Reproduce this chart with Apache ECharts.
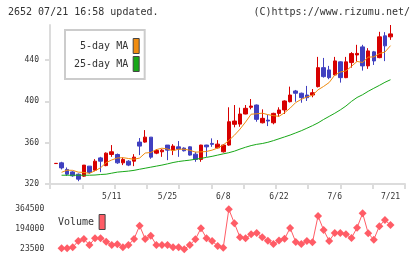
<!DOCTYPE html>
<html>
<head>
<meta charset="utf-8">
<script src="https://cdn.jsdelivr.net/npm/echarts@6/dist/echarts.min.js"></script>
<style>
  html, body { margin: 0; padding: 0; background: #fff; }
  #chart { width: 420px; height: 259px; }
</style>
</head>
<body>
<div id="chart"></div>
<script>
// trading days (2015)
var dates = [
  "4/21", "4/22", "4/23", "4/24", "4/27", "4/28", "4/30", "5/1", "5/7", "5/8",
  "5/11", "5/12", "5/13", "5/14", "5/15", "5/18", "5/19", "5/20", "5/21", "5/22",
  "5/25", "5/26", "5/27", "5/28", "5/29", "6/1", "6/2", "6/3", "6/4", "6/5",
  "6/8", "6/9", "6/10", "6/11", "6/12", "6/15", "6/16", "6/17", "6/18", "6/19",
  "6/22", "6/23", "6/24", "6/25", "6/26", "6/29", "6/30", "7/1", "7/2", "7/3",
  "7/6", "7/7", "7/8", "7/9", "7/10", "7/13", "7/14", "7/15", "7/16", "7/17",
  "7/21"
];
var tickLabels = ["5/11", "5/25", "6/8", "6/22", "7/6", "7/21"];
var priceTicks = [320, 360, 400, 440];

var opens = [
  339.8, 340.5, 334.1, 331.7, 329.5, 327.6, 337.3, 333.4, 345.3, 337.8,
  348.6, 348.6, 340.5, 342.1, 342.1, 360.6, 360.6, 365.4, 349.9, 351.2,
  357.7, 352.8, 356, 354.8, 356, 348.9, 343.8, 357.7, 359.3, 355,
  351.2, 357.7, 377.8, 378, 387.8, 394.3, 396.5, 379.3, 381.9, 379.3,
  388.4, 391.7, 399.7, 410.1, 407.9, 406.2, 406.2, 414.3, 432.7, 430.5,
  425.6, 438.3, 423, 437.6, 445, 452.8, 434.4, 448, 442.4, 463.5,
  462.5
];
var closes = [
  340, 335.6, 329.5, 327.9, 324.7, 338.3, 331.2, 342.1, 342.1, 349.9,
  351.2, 340.5, 343.8, 338.3, 346, 356.7, 365.4, 346, 352.5, 352.8,
  352.8, 356.7, 353.8, 352.2, 348, 343.8, 357.7, 356, 358.4, 358.6,
  357.7, 380.3, 381, 387.8, 393.3, 395.5, 382.6, 383.6, 381, 388.4,
  391.7, 400.4, 406.2, 407.9, 403.6, 403.6, 408.4, 432.7, 424, 423,
  439.2, 423, 438.3, 446.3, 446.5, 434.4, 448.9, 439.2, 462.5, 453.8,
  465.4
];
var lows = [
  339.8, 334.1, 327.9, 327, 322.7, 326.9, 329.8, 332.4, 331.5, 337.2,
  346.3, 339.5, 338.3, 337.3, 337.3, 348, 360, 344.4, 348.9, 346.3,
  343.1, 348, 346.3, 351.5, 347.5, 341.5, 341.5, 346.3, 356, 354.5,
  350.5, 357, 374.9, 375.4, 387.5, 392.3, 380.3, 378.7, 376.1, 377.8,
  385.1, 387.8, 399, 399.7, 398.7, 400.4, 404, 413.5, 423, 421.5,
  425, 418.2, 422.5, 432.7, 438.6, 429.8, 431.5, 435.3, 441.8, 439,
  459.6
];
var highs = [
  340, 341.5, 336, 332.5, 330.2, 338.3, 337.3, 344.1, 346.3, 350.6,
  357.7, 349.5, 345.7, 343.1, 348.9, 364.5, 372.2, 365.4, 353.8, 353.8,
  357.7, 358.6, 361.6, 355.5, 356.5, 351.2, 358, 358, 364.2, 362.5,
  358.5, 394.3, 396.5, 393.9, 396.5, 402.3, 397, 392.3, 386.8, 389,
  394.3, 401, 414.3, 411.1, 408.5, 415, 412, 443.1, 442.1, 434.4,
  443.1, 438.8, 443.1, 447.7, 454.8, 454.8, 451.6, 448.9, 467.4, 467.1,
  474
];
var ma5 = [
  null, 331.3, 333.4, 333.2, 331.5, 331.2, 330.3, 332.8, 335.7, 340.7,
  343.3, 345.2, 345.5, 344.7, 344, 345.1, 350, 350.5, 353.3, 354.7,
  353.9, 352.2, 353.7, 353.7, 352.7, 350.9, 351.1, 351.5, 352.8, 354.9,
  357.7, 362.2, 367.2, 373.1, 380, 387.6, 388, 388.6, 387.2, 386.2,
  385.5, 389, 393.5, 398.9, 402, 404.3, 405.9, 411.2, 414.5, 418.3,
  425.5, 428.4, 429.5, 434, 438.7, 437.7, 442.9, 443.1, 446.3, 447.8,
  454
];
var ma25 = [
  null, 328.5, 328.5, 328.5, 328.5, 328.5, 328.5, 328.7, 329.2, 329.5,
  330.5, 331.5, 332, 332.5, 333.2, 334.3, 335.3, 336.3, 337.3, 338.3,
  339.5, 340.8, 341.8, 342.5, 343.1, 344, 344.8, 345.8, 346.8, 348,
  349.2, 350.3, 351.8, 353.8, 355.6, 357.2, 358.4, 359.2, 360.4, 362,
  363.8, 365.6, 367.4, 369.5, 371.6, 374, 376.5, 379.2, 382.5, 385.5,
  388.5, 391.8, 395.5, 400, 403.8, 406.5, 409.8, 412.7, 415.5, 418.5,
  421
];
var volumes = [
  null, 31000, 31000, 39700, 93400, 110500, 59300, 116400, 116400, 87400,
  59300, 65300, 39700, 59300, 110500, 223800, 110500, 138600, 59300, 59300,
  59300, 39700, 39700, 23500, 59300, 107900, 201700, 116400, 93400, 50800,
  36300, 364500, 244300, 125000, 116400, 150500, 162000, 125000, 95000, 68000,
  98000, 112000, 205000, 85000, 68000, 93400, 82000, 306000, 187200, 93400,
  162000, 162000, 150500, 120000, 206800, 329500, 159100, 105000, 220000, 272400,
  229800
];

var candles = opens.map(function (o, i) {
  return [o, closes[i], lows[i], highs[i]];
});

var mono = "DejaVu Sans Mono";
var axisGray = "#dcdcdc";

var chart = echarts.init(document.getElementById("chart"));
chart.setOption({
  animation: false,
  backgroundColor: "#fff",
  title: [
    {
      text: "2652 07/21 16:58 updated.",
      left: 3,
      top: 2,
      textStyle: { fontFamily: mono, fontSize: 10, fontWeight: "normal", color: "#333" },
    },
    {
      text: "(C)https://www.rizumu.net/",
      right: 5,
      top: 2,
      textStyle: { fontFamily: mono, fontSize: 10, fontWeight: "normal", color: "#333" },
    },
  ],
  legend: [
    {
      data: ["5-day MA", "25-day MA"],
      orient: "vertical",
      align: "right",
      left: 65,
      top: 30,
      padding: [8, 5, 7, 9],
      itemGap: 2,
      itemWidth: 6,
      itemHeight: 15,
      icon: "rect",
      selectedMode: false,
      backgroundColor: "#fff",
      borderColor: "#cccccc",
      borderWidth: 2,
      itemStyle: { borderColor: "#444", borderWidth: 1 },
      formatter: function (name) {
        return name.length < 9 ? " " + name : name;
      },
      textStyle: { fontFamily: mono, fontSize: 10, color: "#333" },
    },
    {
      data: ["Volume"],
      align: "right",
      left: 58,
      top: 214,
      padding: 0,
      itemWidth: 6,
      itemHeight: 15,
      icon: "rect",
      selectedMode: false,
      itemStyle: { borderColor: "#444", borderWidth: 1 },
      textStyle: { fontFamily: mono, fontSize: 10, color: "#333" },
    },
  ],
  grid: [
    { left: 53.2, right: 26.7, top: 25, bottom: 75 },
    { left: 50, right: 15, top: 25, bottom: 75 },
    { left: 53.2, right: 26.7, top: 209.2, bottom: 9.8 },
  ],
  xAxis: [
    {
      type: "category",
      gridIndex: 0,
      data: dates,
      boundaryGap: true,
      axisLine: { show: false },
      axisTick: { show: false },
      splitLine: { show: false },
      axisLabel: {
        interval: function (i, v) {
          return tickLabels.indexOf(v) >= 0;
        },
        margin: 9,
        fontFamily: mono,
        fontSize: 8,
        color: "#333",
      },
    },
    {
      type: "value",
      gridIndex: 1,
      min: 0,
      max: 11,
      interval: 1,
      axisLine: { show: true, lineStyle: { color: axisGray, width: 2 } },
      axisTick: { show: true, length: 5, lineStyle: { color: axisGray, width: 2 } },
      axisLabel: { show: false },
      splitLine: { show: false },
    },
    {
      type: "category",
      gridIndex: 2,
      data: dates,
      show: false,
    },
  ],
  yAxis: [
    {
      type: "value",
      gridIndex: 0,
      min: 320,
      max: 474,
      show: false,
    },
    {
      type: "value",
      gridIndex: 1,
      min: 320,
      max: 474,
      axisLine: { show: true, lineStyle: { color: axisGray, width: 2 } },
      axisTick: { show: true, length: 5, customValues: priceTicks, lineStyle: { color: axisGray, width: 2 } },
      axisLabel: {
        customValues: priceTicks,
        margin: 11,
        fontFamily: mono,
        fontSize: 8,
        color: "#333",
      },
      splitLine: { show: false },
    },
    {
      type: "value",
      gridIndex: 2,
      min: 23500,
      max: 364500,
      interval: 170500,
      axisLine: { show: false },
      axisTick: { show: false },
      splitLine: { show: false },
      axisLabel: {
        margin: 9,
        fontFamily: mono,
        fontSize: 8,
        color: "#333",
        formatter: function (v) {
          return String(v);
        },
      },
    },
  ],
  series: [
    {
      type: "candlestick",
      xAxisIndex: 0,
      yAxisIndex: 0,
      data: candles,
      barWidth: 4,
      itemStyle: {
        color: "#d70000",
        color0: "#4040c0",
        borderColor: "#d70000",
        borderColor0: "#4040c0",
        borderWidth: 1,
      },
    },
    {
      name: "5-day MA",
      type: "line",
      xAxisIndex: 0,
      yAxisIndex: 0,
      data: ma5,
      symbol: "none",
      itemStyle: { color: "#f08c10" },
      lineStyle: { color: "#f08c10", width: 1 },
    },
    {
      name: "25-day MA",
      type: "line",
      xAxisIndex: 0,
      yAxisIndex: 0,
      data: ma25,
      symbol: "none",
      itemStyle: { color: "#18a818" },
      lineStyle: { color: "#18a818", width: 1 },
    },
    {
      name: "Volume",
      type: "line",
      xAxisIndex: 2,
      yAxisIndex: 2,
      data: volumes,
      symbol: "diamond",
      symbolSize: 8,
      showAllSymbol: true,
      itemStyle: { color: "#ff5c66" },
      lineStyle: { color: "#ff5c66", width: 1 },
    },
  ],
});
</script>
</body>
</html>
